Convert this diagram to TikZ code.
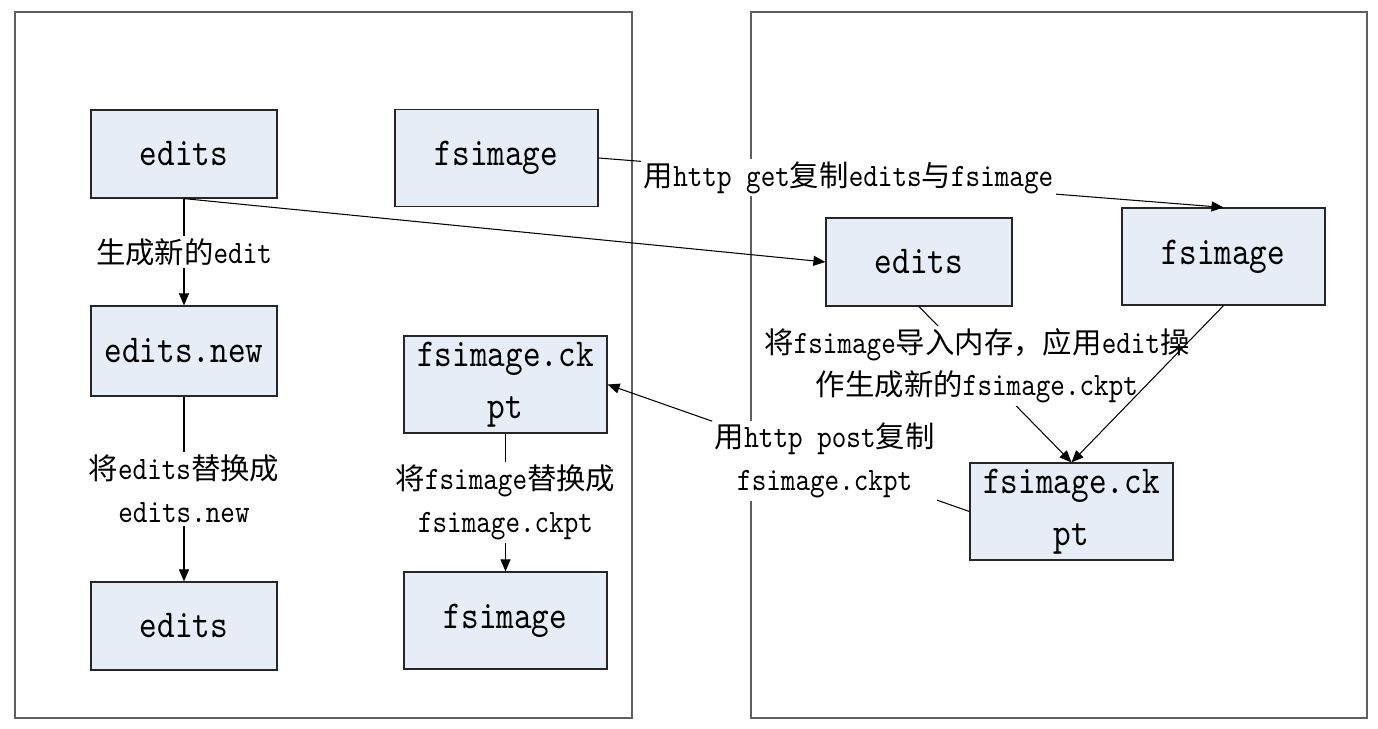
\documentclass[tikz,border=0pt]{standalone}
\usepackage{fontspec}
\setmainfont{lmmono10-regular}[Extension=.otf, FakeStretch=0.85]
\newfontfamily\cnfont{Noto Sans CJK SC}[Scale=0.9]
\newcommand{\cn}[1]{{\cnfont #1}}
\usetikzlibrary{arrows.meta}
\definecolor{boxc}{RGB}{230,237,247}
\definecolor{framec}{RGB}{95,95,95}
\tikzset{
  blk/.style={draw=black!85, fill=boxc, line width=0.7pt, minimum width=3.72cm,
    minimum height=1.76cm, inner sep=0pt, align=center,
    font=\fontsize{22.5}{29.5}\selectfont},
  wblk/.style={blk, minimum width=4.06cm, minimum height=1.94cm},
  lab/.style={fill=white, inner sep=1.5pt, align=center,
    font=\fontsize{18.6}{24.4}\selectfont},
  flow/.style={-{Triangle[length=2.4mm,width=2mm]}, line width=0.6pt},
  frame/.style={draw=framec, line width=0.8pt},
}

\begin{document}
\begin{tikzpicture}[x=0.02cm, y=-0.02cm]
\useasboundingbox (0,0) rectangle (1378,729);

% ------------------------------------------------- two machines
\draw[frame] (15,12) rectangle (632,718);
\draw[frame] (751,12) rectangle (1367,718);

% ------------------------------------------------- left side
\node[blk]  (ledits)  at (184,154)   {edits};
\node[wblk] (lfsimg)  at (496.5,158) {fsimage};
\node[blk, minimum height=1.8cm] (lnew) at (184,351) {edits.new};
\node[wblk] (lckpt)   at (505.5,384.5) {fsimage.ck\\pt};
\node[blk]  (ledits2) at (184,626)   {edits};
\node[wblk] (lfsimg2) at (505.5,620.5) {fsimage};

% ------------------------------------------------- right side
\node[blk]  (redits)  at (919,262)     {edits};
\node[wblk] (rfsimg)  at (1223.5,256.5) {fsimage};
\node[wblk] (rckpt)   at (1071.5,511.5) {fsimage.ck\\pt};

% ------------------------------------------------- connectors
\draw[flow] (ledits) -- node[lab] {\cn{生成新的}edit} (lnew);
\draw[flow] (lnew) -- node[lab] {\cn{将}edits\cn{替换成}\\edits.new} (ledits2);
\draw[flow] (lckpt) -- node[lab] {\cn{将}fsimage\cn{替换成}\\fsimage.ckpt} (lfsimg2);
\draw[flow] (lfsimg.east) -- node[lab, pos=0.4] {\cn{用}http get\cn{复制}edits\cn{与}fsimage} (rfsimg.north);
\draw[flow] (ledits.south) -- (redits.west);
\draw[flow] (redits.south) -- node[lab, pos=0.38]
  {\cn{将}fsimage\cn{导入内存，应用}edit\cn{操}\\\cn{作生成新的}fsimage.ckpt} (rckpt.north);
\draw[flow] (rfsimg.south) -- (rckpt.north);
\draw[flow] (rckpt.west) -- node[lab, pos=0.4] {\cn{用}http post\cn{复制}\\fsimage.ckpt} (lckpt.east);

\end{tikzpicture}
\end{document}
